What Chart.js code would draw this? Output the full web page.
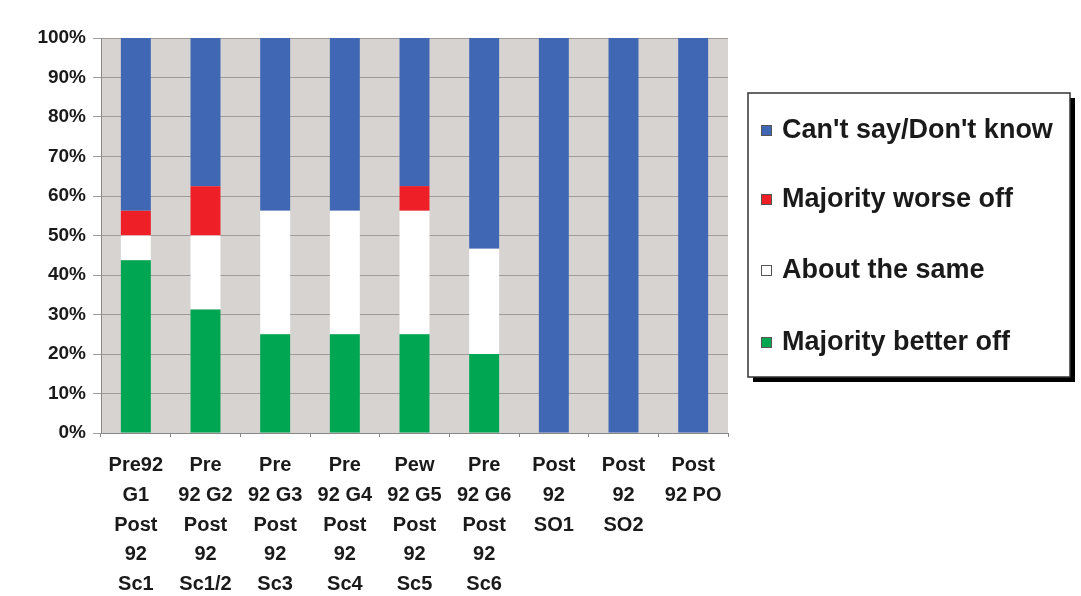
<!DOCTYPE html>
<html>
<head>
<meta charset="utf-8">
<script src="https://cdn.jsdelivr.net/npm/chart.js@4"></script>
<style>
  html, body { margin: 0; padding: 0; background: #fff; }
  #wrap { width: 1081px; height: 596px; position: relative; }
</style>
</head>
<body>
<div id="wrap"><canvas id="surveyChart" width="1081" height="596"></canvas></div>
<script>
// categories (multi-line labels as in the original)
const groups = [
    ['Pre92', 'G1', 'Post', '92', 'Sc1'],
    ['Pre', '92 G2', 'Post', '92', 'Sc1/2'],
    ['Pre', '92 G3', 'Post', '92', 'Sc3'],
    ['Pre', '92 G4', 'Post', '92', 'Sc4'],
    ['Pew', '92 G5', 'Post', '92', 'Sc5'],
    ['Pre', '92 G6', 'Post', '92', 'Sc6'],
    ['Post', '92', 'SO1'],
    ['Post', '92', 'SO2'],
    ['Post', '92 PO']
];

// percentages per group, bottom to top
const betterOff = [43.75, 31.25, 25, 25, 25, 20, 0, 0, 0];
const aboutSame = [6.25, 18.75, 31.25, 31.25, 31.25, 26.67, 0, 0, 0];
const worseOff  = [6.25, 12.5, 0, 0, 6.25, 0, 0, 0, 0];
const dontKnow  = [43.75, 37.5, 43.75, 43.75, 37.5, 53.33, 100, 100, 100];

const yTicks = [0, 10, 20, 30, 40, 50, 60, 70, 80, 90, 100];

const FONT = 'Liberation Sans, Arial, sans-serif';

// grey plot background
const plotBg = {
    id: 'plotBg',
    beforeDraw(chart) {
        const { ctx, chartArea: a } = chart;
        ctx.save();
        ctx.fillStyle = '#d7d3d1';
        ctx.fillRect(a.left, a.top, a.right - a.left, a.bottom - a.top);
        ctx.restore();
    }
};

// boxed legend with shadow, top series first
const boxLegend = {
    id: 'boxLegend',
    afterDraw(chart) {
        const ctx = chart.ctx;
        const x = 748, y = 93, w = 322, h = 284;
        ctx.save();
        ctx.fillStyle = '#000';
        ctx.fillRect(x + 5, y + 5, w, h);
        ctx.fillStyle = '#fff';
        ctx.fillRect(x, y, w, h);
        ctx.strokeStyle = '#333';
        ctx.lineWidth = 1.5;
        ctx.strokeRect(x, y, w, h);

        const items = chart.data.datasets.slice().reverse();
        const rows = [130, 199, 270, 342];
        ctx.font = 'bold 27px ' + FONT;
        ctx.textBaseline = 'middle';
        items.forEach((ds, i) => {
            const cy = rows[i];
            ctx.fillStyle = ds.backgroundColor;
            ctx.fillRect(x + 13, cy - 5, 11, 11);
            ctx.strokeStyle = '#555';
            ctx.lineWidth = 1;
            ctx.strokeRect(x + 13.5, cy - 4.5, 10, 10);
            ctx.fillStyle = '#1a1a1a';
            ctx.fillText(ds.label, x + 34, cy + 1);
        });
        ctx.restore();
    }
};

const ctx = document.getElementById('surveyChart').getContext('2d');
new Chart(ctx, {
    type: 'bar',
    data: {
        labels: groups,
        datasets: [
            { label: 'Majority better off', data: betterOff, backgroundColor: '#00a651' },
            { label: 'About the same', data: aboutSame, backgroundColor: '#ffffff' },
            { label: 'Majority worse off', data: worseOff, backgroundColor: '#ee1f26' },
            { label: "Can't say/Don't know", data: dontKnow, backgroundColor: '#3f67b3' }
        ]
    },
    options: {
        responsive: false,
        animation: false,
        layout: { padding: { left: 0, top: 38, right: 353, bottom: 0 } },
        datasets: { bar: { categoryPercentage: 1, barPercentage: 0.43 } },
        plugins: {
            legend: { display: false },
            tooltip: { enabled: false }
        },
        scales: {
            x: {
                stacked: true,
                afterFit: s => { s.height = 163; },
                grid: { drawOnChartArea: false, drawTicks: true, tickLength: 4, color: '#888' },
                border: { color: '#888' },
                ticks: {
                    color: '#1a1a1a',
                    padding: 14,
                    maxRotation: 0,
                    autoSkip: false,
                    font: { family: FONT, size: 20, weight: 'bold', lineHeight: 1.48 }
                }
            },
            y: {
                stacked: true,
                min: 0,
                max: 100,
                afterFit: s => { s.width = 101; },
                afterBuildTicks: s => { s.ticks = yTicks.map(v => ({ value: v })); },
                grid: { color: '#9e9b9a', tickLength: 8 },
                border: { color: '#888' },
                ticks: {
                    color: '#1a1a1a',
                    padding: 7,
                    callback: v => v + '%',
                    font: { family: FONT, size: 19, weight: 'bold' }
                }
            }
        }
    },
    plugins: [plotBg, boxLegend]
});
</script>
</body>
</html>
